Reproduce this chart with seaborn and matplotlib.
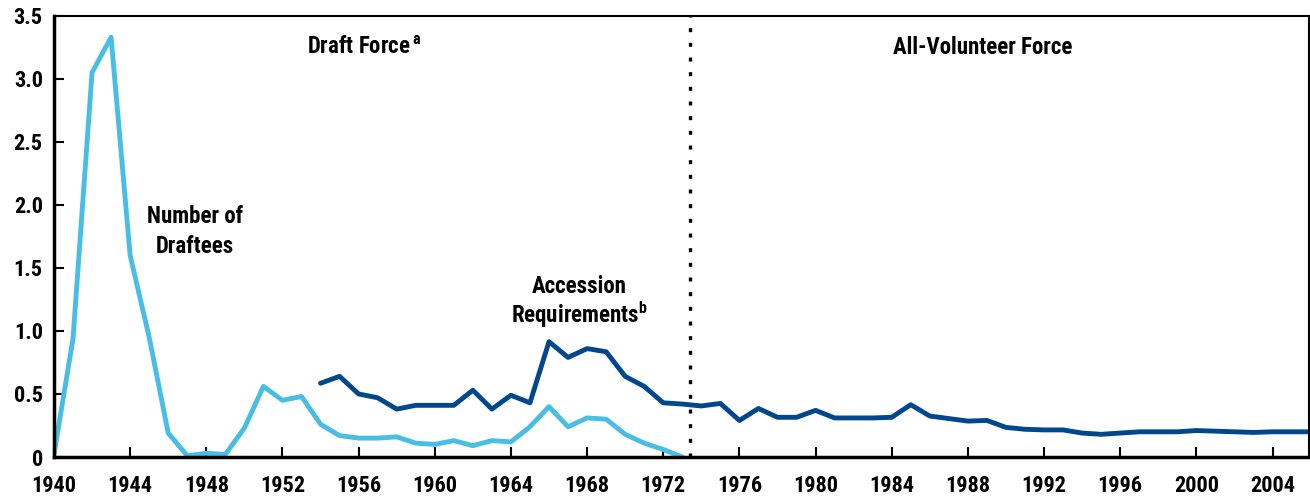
import numpy as np
import pandas as pd
import matplotlib
matplotlib.use("Agg")
import matplotlib.pyplot as plt
import seaborn as sns

# ============================================
# DATA (millions)
# ============================================
draft_years = list(range(1940, 1974))
draftees = [0.02, 0.94, 3.05, 3.33, 1.60, 0.95, 0.19, 0.01, 0.03, 0.02,
            0.23, 0.56, 0.45, 0.48, 0.26, 0.17, 0.15, 0.15, 0.16, 0.11,
            0.10, 0.13, 0.09, 0.13, 0.12, 0.24, 0.40, 0.24, 0.31, 0.30,
            0.18, 0.11, 0.06, 0.0]

acc_years = list(range(1954, 2007))
accessions = [0.585, 0.64, 0.50, 0.47, 0.38, 0.41, 0.41, 0.41, 0.53, 0.38,
              0.49, 0.43, 0.915, 0.79, 0.86, 0.835, 0.64, 0.56, 0.43, 0.42,
              0.405, 0.425, 0.29, 0.385, 0.315, 0.315, 0.37, 0.31, 0.31, 0.31,
              0.315, 0.415, 0.325, 0.305, 0.285, 0.29, 0.235, 0.22, 0.215, 0.215,
              0.19, 0.18, 0.19, 0.20, 0.20, 0.20, 0.21, 0.205, 0.20, 0.195,
              0.20, 0.20, 0.20]

x_ticks = list(range(1940, 2005, 4))
y_ticks = [0, 0.5, 1.0, 1.5, 2.0, 2.5, 3.0, 3.5]
y_labels = ['0', '0.5', '1.0', '1.5', '2.0', '2.5', '3.0', '3.5']

draft_df = pd.DataFrame({'Year': draft_years, 'Value': draftees})
acc_df = pd.DataFrame({'Year': acc_years, 'Value': accessions})

# ============================================
# CHART
# ============================================
sns.set_style("ticks")
plt.rcParams['font.family'] = ['Roboto Condensed', 'DejaVu Sans']
plt.rcParams['font.weight'] = 'bold'
plt.rcParams['text.color'] = 'black'
plt.rcParams['mathtext.fontset'] = 'custom'
plt.rcParams['mathtext.bf'] = 'Roboto Condensed:bold'
plt.rcParams['mathtext.rm'] = 'Roboto Condensed:bold'

light_blue = '#48bee5'
dark_blue = '#00478d'

fig = plt.figure(figsize=(13.1, 4.98), dpi=100)
ax = fig.add_axes([0.0412, 0.0823, 0.9578, 0.886])

sns.lineplot(data=draft_df, x='Year', y='Value', color=light_blue,
             linewidth=3.5, ax=ax)
sns.lineplot(data=acc_df, x='Year', y='Value', color=dark_blue,
             linewidth=3.5, ax=ax)

ax.axvline(1973.4, color='black', linewidth=2.4, linestyle=(0, (1.2, 3.2)))

ax.set_xlim(1940, 2005.9)
ax.set_ylim(0, 3.5)
ax.set_xticks(x_ticks)
ax.set_xticklabels([str(y) for y in x_ticks], fontsize=16, fontweight='bold')
ax.set_yticks(y_ticks)
ax.set_yticklabels(y_labels, fontsize=16, fontweight='bold')
ax.tick_params(axis='both', direction='in', length=7, width=1.5,
               colors='black', labelcolor='black')
ax.tick_params(axis='x', pad=13)
ax.tick_params(axis='y', pad=8)
ax.set_xlabel('')
ax.set_ylabel('')

for side in ['top', 'right']:
    ax.spines[side].set_linewidth(1.5)
    ax.spines[side].set_color('black')
for side in ['left', 'bottom']:
    ax.spines[side].set_linewidth(2.5)
    ax.spines[side].set_color('black')

ax.text(1956.3, 3.25, r'Draft Force$^{\,\mathbf{a}}$', ha='center', va='center',
        fontsize=16.5, fontweight='bold')
ax.text(1988.8, 3.25, 'All-Volunteer Force', ha='center', va='center',
        fontsize=16.5, fontweight='bold')
ax.text(1947.4, 1.79, 'Number of\nDraftees', ha='center', va='center',
        fontsize=16.5, fontweight='bold', linespacing=1.35)
ax.text(1967.6, 1.35, 'Accession', ha='center', va='center',
        fontsize=16.5, fontweight='bold')
ax.text(1967.6, 1.13, 'Requirements$^{\\mathbf{b}}$', ha='center', va='center',
        fontsize=16.5, fontweight='bold')

plt.savefig('out.png', dpi=100)
